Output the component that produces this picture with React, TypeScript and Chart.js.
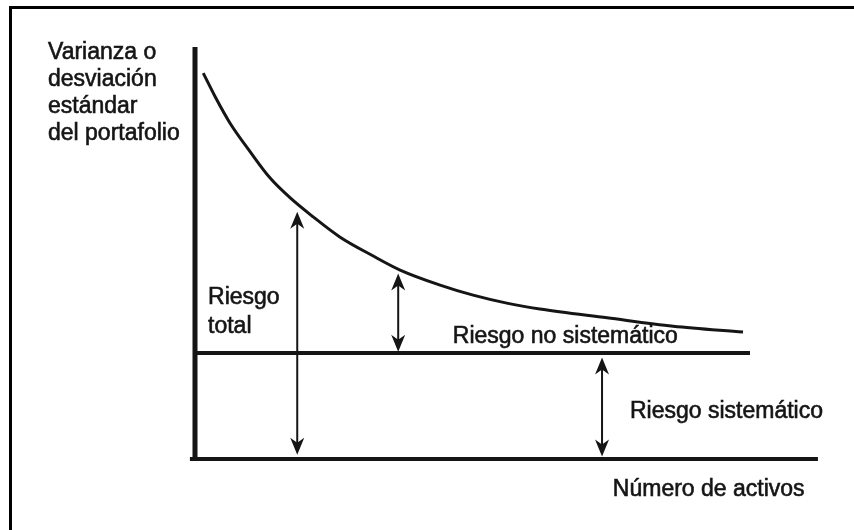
import React, { useEffect, useRef } from "react";
import { Chart, registerables } from "chart.js";

Chart.register(...registerables);

// Número de activos (x) vs. riesgo del portafolio (y), arbitrary units 0-100
const curveX = [1.3, 3.2, 5.5, 8.7, 11.8, 15.0, 18.6, 22.8, 28.0, 32.3, 38.6, 43.8, 49.1, 54.3, 64.9, 75.3, 86.3];
const curveY = [92.1, 86.4, 80.2, 73.3, 67.1, 62.3, 57.8, 53.0, 48.5, 45.1, 41.5, 39.1, 37.2, 35.8, 33.7, 31.7, 30.3];

const systematicLevel = 25.3;
const systematicEndX = 87.4;
const axisEndX = 98.1;
const axisStartX = -0.8;
const axisTopY = 98.3;

// arrows: x position, bottom value, top value
const arrowX = [16.1, 32.0, 64.1];
const arrowBottom = [1.0, 25.6, 0.6];
const arrowTop = [59.0, 44.3, 24.2];

const yTitleLines = ["Varianza o", "desviación", "estándar", "del portafolio"];
const xTitle = "Número de activos";
const labelTexts = ["Riesgo", "total", "Riesgo no sistemático", "Riesgo sistemático"];
const labelX = [2.05, 2.05, 40.6, 68.5];
const labelY = [38.4, 31.7, 29.1, 11.2];
const xTitlePos = { x: 65.8, y: -7.2 };

const FONT = '23px "Liberation Sans", Arial, Helvetica, sans-serif';
const INK = "#151515";

function drawHead(ctx: CanvasRenderingContext2D, x: number, tipY: number, dir: number) {
  // dir = -1 pointing up, +1 pointing down
  const len = 17;
  const half = 7;
  const notch = 5;
  ctx.beginPath();
  ctx.moveTo(x, tipY);
  ctx.lineTo(x - half, tipY - dir * len);
  ctx.lineTo(x, tipY - dir * (len - notch));
  ctx.lineTo(x + half, tipY - dir * len);
  ctx.closePath();
  ctx.fill();
}

const diagramPlugin = {
  id: "diagram",
  beforeDraw(chart: any) {
    const ctx = chart.ctx as CanvasRenderingContext2D;
    ctx.save();
    ctx.fillStyle = "#ffffff";
    ctx.fillRect(0, 0, chart.width, chart.height);
    ctx.fillStyle = "#000";
    ctx.fillRect(9, 6, chart.width - 9, 3);
    ctx.fillRect(9, 6, 3, chart.height - 6);
    ctx.restore();
  },
  afterDraw(chart: any) {
    const ctx = chart.ctx as CanvasRenderingContext2D;
    const xs = chart.scales.x;
    const ys = chart.scales.y;
    ctx.save();
    ctx.strokeStyle = INK;
    ctx.fillStyle = INK;
    ctx.lineWidth = 2;
    for (let i = 0; i < arrowX.length; i++) {
      const px = xs.getPixelForValue(arrowX[i]);
      const top = ys.getPixelForValue(arrowTop[i]);
      const bot = ys.getPixelForValue(arrowBottom[i]);
      ctx.beginPath();
      ctx.moveTo(px, top + 6);
      ctx.lineTo(px, bot - 6);
      ctx.stroke();
      drawHead(ctx, px, top, -1);
      drawHead(ctx, px, bot, 1);
    }
    ctx.font = FONT;
    ctx.textBaseline = "middle";
    ctx.textAlign = "left";
    ctx.lineWidth = 0.6;
    const put = (t: string, x: number, y: number) => {
      ctx.fillText(t, x, y);
      ctx.strokeText(t, x, y);
    };
    for (let i = 0; i < labelTexts.length; i++) {
      put(labelTexts[i], xs.getPixelForValue(labelX[i]), ys.getPixelForValue(labelY[i]));
    }
    put(xTitle, xs.getPixelForValue(xTitlePos.x), ys.getPixelForValue(xTitlePos.y));
    const area = chart.chartArea;
    yTitleLines.forEach((t, i) => {
      put(t, area.left - 147, area.top + 13 + i * 27);
    });
    ctx.restore();
  },
};

export default function App() {
  const ref = useRef<HTMLCanvasElement | null>(null);
  useEffect(() => {
    if (!ref.current) return;
    const curve = curveX.map((x, i) => ({ x, y: curveY[i] }));
    const chart = new Chart(ref.current, {
      type: "scatter",
      data: {
        datasets: [
          {
            label: "Riesgo total",
            data: curve,
            showLine: true,
            borderColor: INK,
            borderWidth: 3,
            pointRadius: 0,
            cubicInterpolationMode: "monotone",
            clip: false,
          } as any,
          {
            label: "Riesgo sistemático",
            data: [
              { x: 0, y: systematicLevel },
              { x: systematicEndX, y: systematicLevel },
            ],
            showLine: true,
            borderColor: INK,
            borderWidth: 4,
            pointRadius: 0,
            clip: false,
          } as any,
          {
            label: "eje x",
            data: [
              { x: axisStartX, y: 0 },
              { x: axisEndX, y: 0 },
            ],
            showLine: true,
            borderColor: INK,
            borderWidth: 4,
            pointRadius: 0,
            clip: false,
          } as any,
          {
            label: "eje y",
            data: [
              { x: 0, y: -0.5 },
              { x: 0, y: axisTopY },
            ],
            showLine: true,
            borderColor: INK,
            borderWidth: 5,
            pointRadius: 0,
            clip: false,
          } as any,
        ],
      },
      options: {
        animation: false,
        responsive: false,
        events: [],
        layout: { padding: { left: 195, right: 24, top: 40, bottom: 71 } },
        plugins: { legend: { display: false }, tooltip: { enabled: false } },
        scales: {
          x: { type: "linear", min: 0, max: 100, display: false },
          y: { type: "linear", min: 0, max: 100, display: false },
        },
      },
      plugins: [diagramPlugin],
    });
    return () => chart.destroy();
  }, []);
  return (
    <div style={{ position: "fixed", left: 0, top: 0, width: 854, height: 530, background: "#fff" }}>
      <canvas ref={ref} width={854} height={530} style={{ display: "block" }} />
    </div>
  );
}
